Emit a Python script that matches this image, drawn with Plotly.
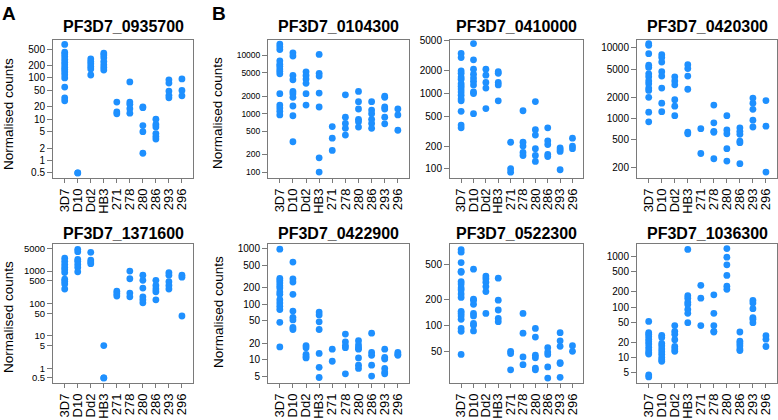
import plotly.graph_objects as go

strains = ["3D7", "D10", "Dd2", "HB3", "271", "278", "280", "286", "293", "296"]

# Normalised counts per strain (order as in `strains`)
v_0935700 = [
    [650, 420, 380, 330, 280, 240, 210, 180, 160, 140, 120, 100, 60, 33, 28],
    [0.5, 0.5],
    [290, 250, 220, 190, 165, 118],
    [400, 360, 310, 250, 210, 180, 155],
    [26, 15, 13.5],
    [80, 26, 23, 18, 14],
    [20, 19, 7, 5, 1.5],
    [10, 7.5, 6.5, 4.5, 3.8, 3.3],
    [90, 75, 48, 38, 33],
    [95, 50, 37],
]
v_1371600 = [
    [2500, 2000, 1600, 1300, 1100, 900, 560, 480, 400, 280],
    [4700, 4000, 2300, 2000, 1600, 1300, 950],
    [3800, 2200, 1900, 1700],
    [5, 0.5, 0.5],
    [240, 200, 170],
    [1000, 580, 210, 160],
    [750, 520, 300, 160, 130, 105],
    [520, 360, 280, 230, 130],
    [900, 750, 470, 360, 280],
    [750, 650, 41],
]
v_0104300 = [
    [15500, 14000, 12500, 8000, 7000, 6500, 5800, 5300, 4800, 2200, 1400, 1250, 1100, 950],
    [11000, 9700, 4500, 3800, 2400, 2200, 1900, 1350, 920, 330],
    [5200, 4500, 3900, 3300, 2200, 1400],
    [10300, 4900, 4400, 2250, 1300, 175, 100],
    [600, 380, 235],
    [2100, 870, 680, 560, 430],
    [2400, 1600, 1200, 800, 730, 590],
    [1600, 1150, 1000, 800, 680, 560],
    [2000, 1900, 1300, 1200, 870, 670],
    [1200, 950, 520],
]
v_0410000 = [
    [3400, 3000, 2000, 1850, 1650, 1550, 1350, 1250, 1150, 1050, 950, 850, 800, 580, 380, 350],
    [4600, 2800, 2100, 1800, 1600, 1450, 1300, 1050, 1000, 540],
    [2100, 1750, 1400, 1180, 630],
    [1950, 1850, 1400, 1300, 800],
    [225, 100, 90],
    [590, 225, 200, 165, 150],
    [780, 330, 280, 185, 150, 125],
    [350, 235, 210, 155, 145],
    [190, 180, 170, 97],
    [255, 200, 185],
]
v_0420300 = [
    [11500, 10900, 8300, 5700, 5300, 4300, 3900, 3400, 3100, 2700, 2500, 2000, 1230, 900],
    [8000, 7300, 6300, 4600, 4000, 2700, 1650, 1250],
    [3900, 3400, 3000, 1850, 1500, 1100],
    [5800, 5100, 4000, 2600, 640, 610],
    [720, 320],
    [1550, 870, 660, 640, 270],
    [1100, 690, 610, 375, 250],
    [740, 660, 600, 480, 455, 230],
    [1950, 1650, 1350, 950, 760],
    [1800, 780, 175],
]
v_0422900 = [
    [970, 290, 265, 240, 215, 195, 165, 150, 120, 105, 92, 80, 47, 17],
    [570, 285, 250, 150, 75, 58, 52, 38, 35],
    [18, 16.5, 12.5, 11.5, 10.8],
    [72, 64, 48, 35, 13, 7.3, 4.8],
    [15.5, 9.4],
    [29, 21, 18, 16.5, 5.6],
    [22, 18.5, 16.5, 15.5, 10.8, 8, 7],
    [30, 13.5, 12, 8, 5.1],
    [15.5, 11, 10.3, 7, 6, 5.6],
    [13.5, 12.5, 12],
]
v_0522300 = [
    [750, 700, 530, 420, 410, 320, 300, 270, 255, 230, 210, 145, 137, 128, 117, 92, 85, 46],
    [445, 200, 195, 175, 137, 128, 105, 100, 86],
    [370, 345, 315, 280, 245, 137],
    [350, 195, 150, 120, 110],
    [50, 47, 30.5],
    [137, 81, 43, 35],
    [92, 73, 45, 42, 32, 30.5],
    [55, 49, 46, 33, 24.5],
    [82, 66, 57, 37, 36, 25],
    [58, 50],
]
v_1036300 = [
    [52, 31, 29, 26, 23, 20.5, 18.5, 16, 14, 12.5, 11.7, 4.5, 4.1],
    [27.5, 25, 19, 17, 14.7, 13, 11.5, 10, 9, 8.4],
    [43, 33, 29, 22.5, 16.5, 14.7, 13.2],
    [1400, 168, 150, 125, 112, 90, 75, 49],
    [270, 150, 43],
    [175, 75, 43, 33, 32],
    [1450, 980, 690, 425, 260, 225],
    [32, 21, 19, 17, 14.7, 13.7],
    [135, 120, 93, 62, 57, 49],
    [27, 23, 16.5],
]

titles = ["PF3D7_0935700", "PF3D7_0104300", "PF3D7_0410000", "PF3D7_0420300",
          "PF3D7_1371600", "PF3D7_0422900", "PF3D7_0522300", "PF3D7_1036300"]
panel_values = [v_0935700, v_0104300, v_0410000, v_0420300,
                v_1371600, v_0422900, v_0522300, v_1036300]
panel_ticks = [
    [0.5, 1, 2, 5, 10, 20, 50, 100, 200, 500],
    [100, 200, 500, 1000, 2000, 5000, 10000],
    [100, 200, 500, 1000, 2000, 5000],
    [200, 500, 1000, 2000, 5000, 10000],
    [0.5, 1, 5, 10, 50, 100, 500, 1000, 5000],
    [5, 10, 20, 50, 100, 200, 500, 1000],
    [50, 100, 200, 500],
    [5, 10, 20, 50, 100, 200, 500, 1000],
]
panel_yrange = [
    [-0.432, 2.928], [1.893, 4.266], [1.873, 3.715], [2.154, 4.117],
    [-0.469, 3.847], [0.576, 3.086], [1.328, 2.943], [0.485, 3.259],
]
ytick_size = [10, 8.5, 10, 10, 9.5, 10, 10, 10]

W, H = 778, 420
col_px = [(53, 193), (268, 409), (450, 583), (637, 777)]
row_px = [(36, 176), (242, 383)]
title_y_px = [23, 232]

FONT = "Liberation Sans, Arial, sans-serif"
BLUE = "#1E90FF"
FRAME = "#7a7a7a"

fig = go.Figure()
layout = dict(
    width=W, height=H, margin=dict(l=0, r=0, t=0, b=0),
    paper_bgcolor="white", plot_bgcolor="white", showlegend=False,
    font=dict(family=FONT, color="black"),
)
annotations = []

def lab(t):
    return ("%g" % t)

for i in range(8):
    r, c = divmod(i, 4)
    n = i + 1
    xa = "xaxis" if n == 1 else f"xaxis{n}"
    ya = "yaxis" if n == 1 else f"yaxis{n}"
    xref = "x" if n == 1 else f"x{n}"
    yref = "y" if n == 1 else f"y{n}"
    x0, x1 = col_px[c]
    y0, y1 = row_px[r]
    xs, ys = [], []
    for k, vals in enumerate(panel_values[i]):
        xs += [k] * len(vals)
        ys += vals
    fig.add_trace(go.Scatter(
        x=xs, y=ys, mode="markers", xaxis=xref, yaxis=yref,
        marker=dict(color=BLUE, size=6.8, line=dict(width=0)),
        hoverinfo="skip",
    ))
    layout[xa] = dict(
        domain=[x0 / W, x1 / W], anchor=yref, range=[-0.9, 9.85],
        tickmode="array", tickvals=list(range(10)), ticktext=strains,
        tickangle=-90, ticks="outside", ticklen=4, tickcolor=FRAME,
        tickfont=dict(size=13, family=FONT, color="black"),
        showline=True, linecolor=FRAME, linewidth=1, mirror=True,
        showgrid=False, zeroline=False, fixedrange=True,
    )
    layout[ya] = dict(
        domain=[1 - y1 / H, 1 - y0 / H], anchor=xref, type="log",
        range=panel_yrange[i], tickmode="array", tickvals=panel_ticks[i],
        ticktext=[lab(t) for t in panel_ticks[i]],
        ticks="outside", ticklen=5, tickcolor=FRAME,
        tickfont=dict(size=ytick_size[i], family=FONT, color="black"),
        showline=True, linecolor=FRAME, linewidth=1, mirror=True,
        showgrid=False, zeroline=False, fixedrange=True,
    )
    annotations.append(dict(
        text=f"<b>{titles[i]}</b>", xref="paper", yref="paper",
        x=(x0 + x1) / 2 / W, y=1 - title_y_px[r] / H,
        xanchor="center", yanchor="middle", showarrow=False,
        font=dict(size=16, family=FONT, color="black"),
    ))

ylab_pos = [(9, 111), (9, 316), (218, 110), (218, 311)]
for (px, py) in ylab_pos:
    annotations.append(dict(
        text="Normalised counts", xref="paper", yref="paper",
        x=px / W, y=1 - py / H, xanchor="center", yanchor="middle",
        textangle=-90, showarrow=False,
        font=dict(size=13.5, family=FONT, color="black"),
    ))

for letter, px in (("A", 9), ("B", 219)):
    annotations.append(dict(
        text=f"<b>{letter}</b>", xref="paper", yref="paper",
        x=px / W, y=1 - 10 / H, xanchor="center", yanchor="middle",
        showarrow=False, font=dict(size=19, family=FONT, color="black"),
    ))

layout["annotations"] = annotations
fig.update_layout(**layout)
fig.write_html(
    "out.html",
    config={"displayModeBar": False, "staticPlot": True},
    post_script="document.body.style.margin='0';document.body.style.overflow='hidden';",
)
